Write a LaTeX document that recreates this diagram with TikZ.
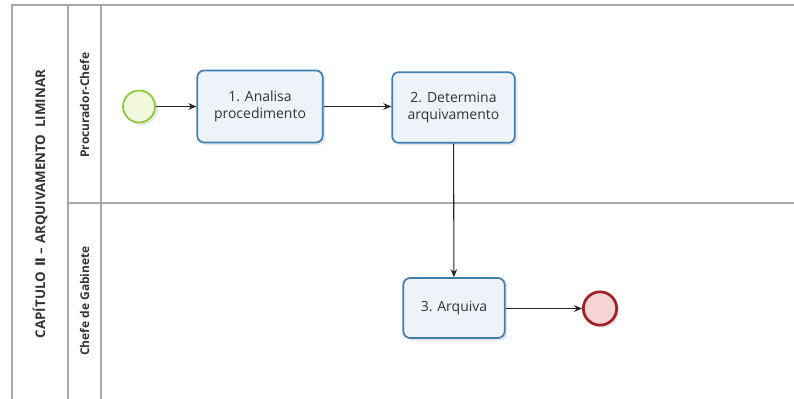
\documentclass[tikz,border=0pt]{standalone}
\usepackage{fontspec}
\setmainfont{Open Sans}
\newfontfamily\djfont{DejaVu Sans}
\usetikzlibrary{arrows.meta,shadows}
\definecolor{lanegray}{HTML}{A8A8A8}
\definecolor{taskborder}{HTML}{3F7FB0}
\definecolor{taskfill}{HTML}{EEF3FA}
\definecolor{startborder}{HTML}{8CC63F}
\definecolor{startfill}{HTML}{F1F8DC}
\definecolor{endborder}{HTML}{A31D24}
\definecolor{endfill}{HTML}{F6D3D5}
\definecolor{txt}{HTML}{333333}
\tikzset{
  lane/.style={draw=lanegray, line width=1.1pt},
  task/.style={draw=taskborder, line width=1.3pt, fill=taskfill, rounded corners=5pt,
    align=center, font=\fontsize{10.5}{13}\selectfont, text=txt,
    drop shadow={shadow xshift=2pt, shadow yshift=-2pt, opacity=0.18}},
  startev/.style={circle, draw=startborder, line width=1.3pt, fill=startfill,
    drop shadow={shadow xshift=2pt, shadow yshift=-2pt, opacity=0.18}},
  endev/.style={circle, draw=endborder, line width=2pt, fill=endfill,
    drop shadow={shadow xshift=2pt, shadow yshift=-2pt, opacity=0.18}},
  flow/.style={draw=black!85, line width=0.8pt, -{Stealth[length=6pt,width=5pt]}},
  lanelabel/.style={rotate=90, font=\bfseries\fontsize{9}{11}\selectfont, text=txt},
}
\begin{document}
\begin{tikzpicture}[x=0.75pt, y=-0.75pt]
\useasboundingbox (0,0) rectangle (794,399);
% pool frame
\draw[lane] (12,399) -- (12,5) -- (794,5);
\draw[lane] (68,5) -- (68,399);
\draw[lane] (101,5) -- (101,399);
\draw[lane] (68,203) -- (794,203);
% labels
\node[lanelabel, font=\bfseries\fontsize{10}{12}\selectfont] (pool) at (40,204) {CAPÍTULO \,{\djfont Ⅱ} – ARQUIVAMENTO \ LIMINAR};
\node[lanelabel] (lane1) at (84.5,105) {Procurador-Chefe};
\node[lanelabel] (lane2) at (84.5,301) {Chefe de Gabinete};
% elements
\node[startev, minimum size=24pt, inner sep=0pt] (start) at (139,106.5) {};
\node[task, minimum width=94pt, minimum height=54pt] (t1) at (260,106.5) {1. Analisa\\procedimento};
\node[task, minimum width=92pt, minimum height=53pt] (t2) at (453.5,107.5) {2. Determina\\arquivamento};
\node[task, minimum width=76pt, minimum height=45pt] (t3) at (454,308) {3. Arquiva};
\node[endev, minimum size=25pt, inner sep=0pt] (end) at (600,308.5) {};
% flows
\draw[flow] (start) -- (t1.west |- start);
\draw[flow] (t1) -- (t2.west |- t1);
\draw[flow] (t2) -- (t3);
\draw[flow] (t3.east |- end) -- (end);
\end{tikzpicture}
\end{document}
